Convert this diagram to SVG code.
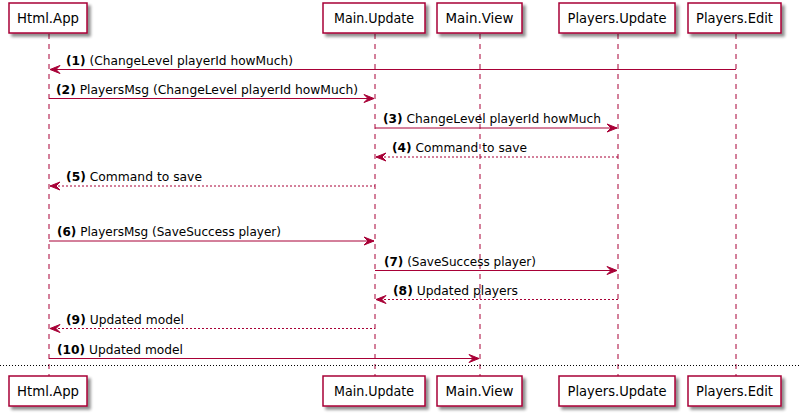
<svg xmlns="http://www.w3.org/2000/svg" width="800" height="418" viewBox="0 0 800 418">
<defs>
<filter id="sh" x="-20%" y="-20%" width="150%" height="160%">
<feGaussianBlur in="SourceAlpha" stdDeviation="1.5" result="b"/>
<feOffset in="b" dx="3" dy="3" result="o"/>
<feComponentTransfer in="o" result="oc"><feFuncA type="linear" slope="0.45"/></feComponentTransfer>
<feMerge><feMergeNode in="oc"/><feMergeNode in="SourceGraphic"/></feMerge>
</filter>
</defs>
<style>
.box{fill:#FFFFFF;stroke:#A80036;stroke-width:1.5;filter:url(#sh)}
.life{stroke:#A80036;stroke-width:1;stroke-dasharray:5,5;fill:none}
.pt{font-family:"DejaVu Sans","Liberation Sans",sans-serif;font-size:14px;fill:#000;text-anchor:middle}
.msg{stroke:#A80036;stroke-width:1;fill:none}
.dash{stroke-dasharray:2,2}
.head{fill:#A80036;stroke:#A80036;stroke-width:1}
.lbl{font-family:"DejaVu Sans","Liberation Sans",sans-serif;font-size:12px;fill:#000}
.num{font-weight:bold}
.sep{stroke:#000;stroke-width:1;stroke-dasharray:1,2}
</style>
<rect width="800" height="418" fill="#FFFFFF"/>
<g id="lifelines">
<line class="life" x1="49" y1="34" x2="49" y2="376"/>
<line class="life" x1="375" y1="34" x2="375" y2="376"/>
<line class="life" x1="480" y1="34" x2="480" y2="376"/>
<line class="life" x1="618" y1="34" x2="618" y2="376"/>
<line class="life" x1="736" y1="34" x2="736" y2="376"/>
</g>
<line class="sep" x1="0" y1="365.5" x2="800" y2="365.5"/>
<g id="html-app">
<rect class="box" x="9" y="3" width="78" height="30"/>
<text class="pt" x="48" y="23" textLength="62" lengthAdjust="spacingAndGlyphs">Html.App</text>
<rect class="box" x="9" y="376" width="78" height="30"/>
<text class="pt" x="48" y="396" textLength="62" lengthAdjust="spacingAndGlyphs">Html.App</text>
</g>
<g id="main-update">
<rect class="box" x="323" y="3" width="102" height="30"/>
<text class="pt" x="374" y="23" textLength="80" lengthAdjust="spacingAndGlyphs">Main.Update</text>
<rect class="box" x="323" y="376" width="102" height="30"/>
<text class="pt" x="374" y="396" textLength="80" lengthAdjust="spacingAndGlyphs">Main.Update</text>
</g>
<g id="main-view">
<rect class="box" x="437" y="3" width="85" height="30"/>
<text class="pt" x="479.5" y="23" textLength="68" lengthAdjust="spacingAndGlyphs">Main.View</text>
<rect class="box" x="437" y="376" width="85" height="30"/>
<text class="pt" x="479.5" y="396" textLength="68" lengthAdjust="spacingAndGlyphs">Main.View</text>
</g>
<g id="players-update">
<rect class="box" x="559" y="3" width="116" height="30"/>
<text class="pt" x="617" y="23" textLength="99" lengthAdjust="spacingAndGlyphs">Players.Update</text>
<rect class="box" x="559" y="376" width="116" height="30"/>
<text class="pt" x="617" y="396" textLength="99" lengthAdjust="spacingAndGlyphs">Players.Update</text>
</g>
<g id="players-edit">
<rect class="box" x="688" y="3" width="93" height="30"/>
<text class="pt" x="734.5" y="23" textLength="77" lengthAdjust="spacingAndGlyphs">Players.Edit</text>
<rect class="box" x="688" y="376" width="93" height="30"/>
<text class="pt" x="734.5" y="396" textLength="77" lengthAdjust="spacingAndGlyphs">Players.Edit</text>
</g>
<g id="connectors">
<!-- 1 -->
<line class="msg" x1="50" y1="69.5" x2="736" y2="69.5"/>
<polygon class="head" points="60,65.5 50,69.5 60,73.5 56,69.5"/>
<text class="lbl" x="66" y="64.5" textLength="227" lengthAdjust="spacingAndGlyphs"><tspan class="num">(1)</tspan> (ChangeLevel playerId howMuch)</text>
<!-- 2 -->
<line class="msg" x1="49" y1="98.5" x2="374" y2="98.5"/>
<polygon class="head" points="364,94.5 374,98.5 364,102.5 368,98.5"/>
<text class="lbl" x="56" y="93.5" textLength="302" lengthAdjust="spacingAndGlyphs"><tspan class="num">(2)</tspan> PlayersMsg (ChangeLevel playerId howMuch)</text>
<!-- 3 -->
<line class="msg" x1="375" y1="128" x2="617" y2="128"/>
<polygon class="head" points="607,124 617,128 607,132 611,128"/>
<text class="lbl" x="383" y="123" textLength="218" lengthAdjust="spacingAndGlyphs"><tspan class="num">(3)</tspan> ChangeLevel playerId howMuch</text>
<!-- 4 -->
<line class="msg dash" x1="376" y1="157" x2="618" y2="157"/>
<polygon class="head" points="386,153 376,157 386,161 382,157"/>
<text class="lbl" x="392" y="152" textLength="135" lengthAdjust="spacingAndGlyphs"><tspan class="num">(4)</tspan> Command to save</text>
<!-- 5 -->
<line class="msg dash" x1="50" y1="186" x2="375" y2="186"/>
<polygon class="head" points="60,182 50,186 60,190 56,186"/>
<text class="lbl" x="66" y="181" textLength="136" lengthAdjust="spacingAndGlyphs"><tspan class="num">(5)</tspan> Command to save</text>
<!-- 6 -->
<line class="msg" x1="49" y1="241" x2="374" y2="241"/>
<polygon class="head" points="364,237 374,241 364,245 368,241"/>
<text class="lbl" x="57" y="236" textLength="224" lengthAdjust="spacingAndGlyphs"><tspan class="num">(6)</tspan> PlayersMsg (SaveSuccess player)</text>
<!-- 7 -->
<line class="msg" x1="375" y1="270.5" x2="617" y2="270.5"/>
<polygon class="head" points="607,266.5 617,270.5 607,274.5 611,270.5"/>
<text class="lbl" x="384" y="265.5" textLength="152" lengthAdjust="spacingAndGlyphs"><tspan class="num">(7)</tspan> (SaveSuccess player)</text>
<!-- 8 -->
<line class="msg dash" x1="376" y1="299.5" x2="618" y2="299.5"/>
<polygon class="head" points="386,295.5 376,299.5 386,303.5 382,299.5"/>
<text class="lbl" x="393" y="294.5" textLength="125" lengthAdjust="spacingAndGlyphs"><tspan class="num">(8)</tspan> Updated players</text>
<!-- 9 -->
<line class="msg dash" x1="50" y1="328.5" x2="375" y2="328.5"/>
<polygon class="head" points="60,324.5 50,328.5 60,332.5 56,328.5"/>
<text class="lbl" x="66" y="323.5" textLength="118" lengthAdjust="spacingAndGlyphs"><tspan class="num">(9)</tspan> Updated model</text>
<!-- 10 -->
<line class="msg" x1="49" y1="358.5" x2="479" y2="358.5"/>
<polygon class="head" points="469,354.5 479,358.5 469,362.5 473,358.5"/>
<text class="lbl" x="57" y="353.5" textLength="126" lengthAdjust="spacingAndGlyphs"><tspan class="num">(10)</tspan> Updated model</text>
</g>
</svg>
